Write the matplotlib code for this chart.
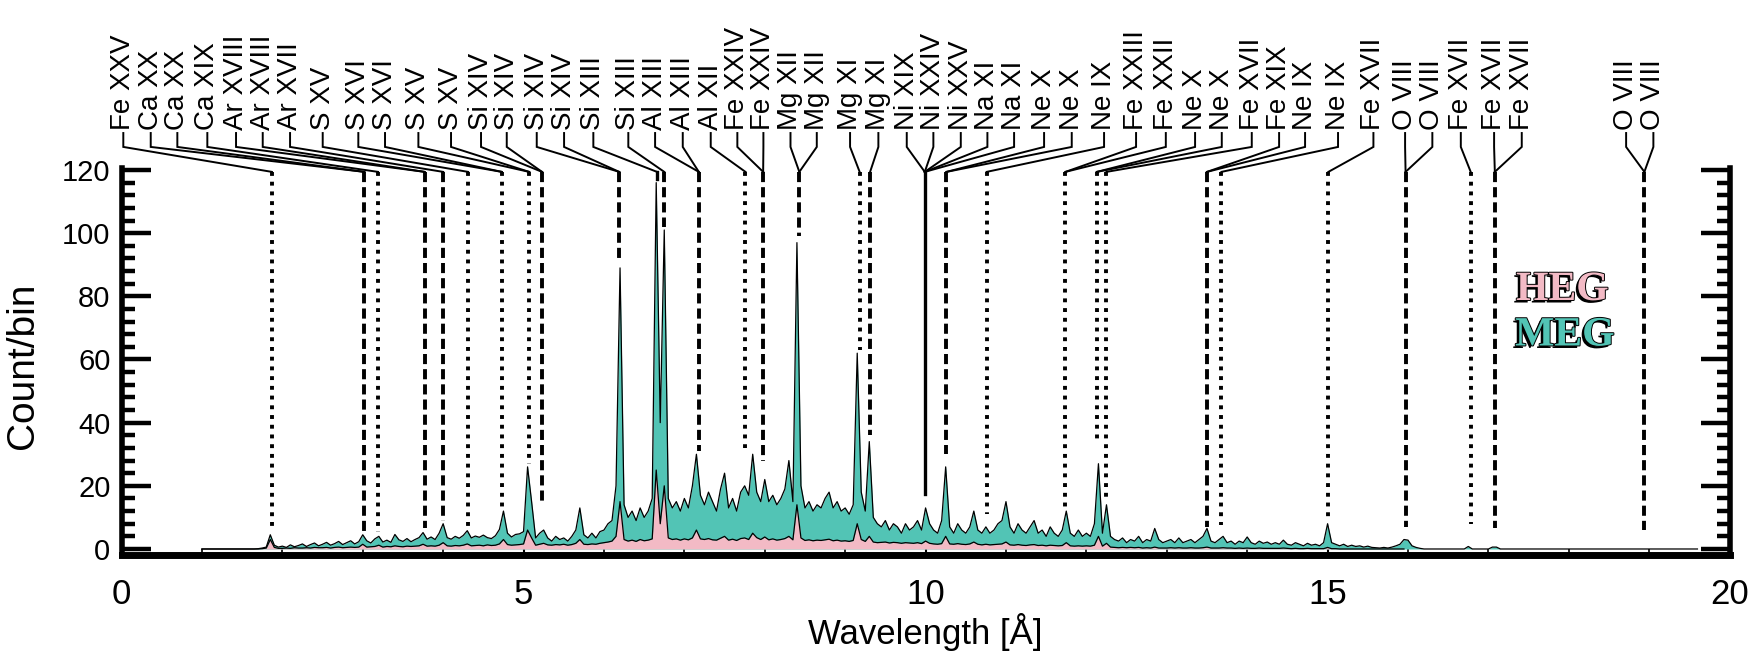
import numpy as np
import matplotlib
matplotlib.use('Agg')
import matplotlib.pyplot as plt
import matplotlib.patheffects as pe
from matplotlib.ticker import MultipleLocator

plt.rcParams['font.family'] = ['Liberation Sans', 'DejaVu Sans']

# ---------------- data ----------------
wave_start = 1.0
wave_step = 0.05

meg_counts = [
    0, 0, 0, 0, 0, 0, 0, 0, 0, 0, 0, 0, 0, 0, 0.1, 0.3, 0.6, 4.5, 1.2, 0.6,            # 1.00-1.95
    0.9, 0.5, 1.3, 0.7, 1.1, 1.6, 0.8, 1.4, 1.9, 1.0, 1.5, 2.1, 1.2, 1.7, 2.4, 1.4, 2.0, 2.6, 1.6, 2.3,  # 2
    4.5, 2.6, 1.9, 3.2, 4.0, 2.2, 2.8, 2.1, 4.6, 2.9, 2.4, 3.3, 2.3, 3.0, 3.6, 5.2, 3.1, 3.8, 3.0, 5.0,  # 3
    8.0, 3.6, 3.1, 4.0, 3.4, 4.3, 5.8, 3.5, 4.1, 3.7, 4.4, 3.6, 3.3, 4.2, 6.2, 12.0, 5.0, 3.8, 4.6, 4.8,  # 4
    5.5, 26, 15, 3.5, 5, 6, 3.5, 2.5, 4, 3, 3.5, 2.5, 4, 6, 13, 4.5, 3.5, 5, 3.5, 5.5,  # 5
    6, 8, 9, 20, 89, 14, 10, 12, 9, 13, 10, 12, 16, 116, 40, 101, 16, 13, 15, 12,      # 6
    16, 13, 20, 30, 17, 14, 18, 15, 12, 19, 24, 13, 16, 12, 18, 20, 17, 30, 18, 15,    # 7
    22, 15, 17, 14, 16, 19, 28, 15, 97, 20, 13, 15, 12, 14, 13, 16, 18, 13, 15, 12,    # 8
    13, 11, 14, 62, 18, 12, 34, 10, 8, 7, 9, 6, 8, 7, 5, 8, 6, 7, 9, 6,                # 9
    13, 8, 6, 5, 9, 26, 7, 5, 8, 6, 5, 7, 12, 6, 5, 7, 5, 6, 8, 9,                     # 10
    15, 7, 5, 8, 6, 5, 7, 9, 5, 6, 4, 7, 5, 4, 6, 12, 5, 4, 6, 4,                      # 11
    5, 4, 8, 27, 5, 14, 4, 3, 2.5, 3.5, 2, 3, 2.5, 4, 2, 3, 2.5, 6.5, 3, 2,            # 12
    2.5, 3, 2, 3.5, 2, 2.5, 3, 2, 3, 4, 6.5, 2.5, 2, 3, 4, 2, 2.5, 1.5, 2.5, 2,        # 13
    3.8, 2, 1.5, 2.5, 1.8, 2.2, 1.5, 2, 1.5, 2.8, 1.5, 1.2, 2, 1.5, 1, 1.8, 1.2, 1.5, 1, 2,  # 14
    8, 2, 1.5, 1, 1.5, 0.8, 1.2, 0.8, 1, 0.6, 0.9, 0.5, 0.4, 0.3, 0.5, 0.3, 0.6, 1, 1.5, 3,  # 15
    2.8, 1, 0.5, 0.2, 0, 0, 0, 0, 0, 0, 0, 0, 0, 0, 0, 0.8, 0, 0, 0, 0,                # 16
    0, 0.6, 0.6, 0, 0, 0, 0, 0, 0, 0, 0, 0, 0, 0, 0, 0, 0, 0, 0, 0,                    # 17
    0, 0, 0, 0, 0, 0, 0, 0, 0, 0, 0, 0, 0, 0, 0, 0, 0, 0, 0, 0,                        # 18
    0, 0, 0, 0, 0, 0, 0, 0, 0, 0, 0, 0, 0,                                             # 19.00-19.60
]

heg_counts = [
    0, 0, 0, 0, 0, 0, 0, 0, 0, 0, 0, 0, 0, 0, 0, 0.1, 0.3, 3.0, 0.5, 0.2,
    0.2, 0.3, 0.2, 0.4, 0.3, 0.3, 0.4, 0.3, 0.5, 0.4, 0.4, 0.5, 0.3, 0.5, 0.6, 0.4, 0.5, 0.6, 0.5, 0.6,
    1.5, 0.6, 0.7, 0.8, 1.2, 0.6, 0.8, 0.7, 1.0, 0.8, 0.7, 0.9, 0.8, 0.9, 1.0, 1.5, 0.9, 1.0, 0.9, 1.2,
    2.0, 1.0, 0.9, 1.1, 1.0, 1.2, 1.6, 1.0, 1.1, 1.2, 1.0, 1.3, 1.1, 1.2, 1.6, 3.0, 1.4, 1.2, 1.3, 1.4,
    1.6, 6.0, 3.5, 1.2, 1.5, 1.8, 1.3, 1.2, 1.4, 1.3, 1.5, 1.2, 1.4, 1.8, 3.0, 1.5, 1.4, 1.6, 1.5, 1.8,
    2.0, 2.2, 2.5, 4.0, 15.0, 3.0, 2.5, 2.8, 2.4, 3.0, 2.6, 2.8, 3.2, 25.0, 8.0, 20.0, 3.5, 3.0, 3.2, 2.8,
    3.2, 2.9, 3.5, 6.0, 3.2, 3.0, 3.3, 2.9, 2.8, 3.4, 4.0, 2.8, 3.1, 2.7, 3.3, 3.5, 3.0, 5.0, 3.6, 3.0,
    3.8, 2.9, 3.2, 2.8, 3.0, 3.3, 4.0, 2.9, 14.0, 3.5, 2.7, 2.9, 2.6, 2.8, 2.7, 2.9, 3.1, 2.6, 2.8, 2.5,
    2.6, 2.4, 2.7, 8.0, 3.0, 2.4, 4.0, 2.2, 2.0, 2.1, 2.2, 1.9, 2.1, 2.0, 1.8, 2.0, 1.9, 1.8, 2.0, 1.7,
    2.5, 1.8, 1.6, 1.5, 1.7, 4.0, 1.6, 1.5, 1.7, 1.5, 1.4, 1.6, 2.2, 1.5, 1.3, 1.5, 1.3, 1.4, 1.5, 1.6,
    2.2, 1.3, 1.2, 1.4, 1.2, 1.1, 1.3, 1.4, 1.1, 1.2, 1.0, 1.2, 1.1, 1.0, 1.1, 2.0, 1.0, 0.9, 1.0, 0.9,
    1.0, 0.9, 1.2, 4.0, 0.9, 1.8, 0.6, 0.5, 0.4, 0.5, 0.4, 0.5, 0.4, 0.5, 0.3, 0.4, 0.3, 0.6, 0.3, 0.3,
    0.3, 0.4, 0.3, 0.4, 0.3, 0.3, 0.4, 0.3, 0.3, 0.4, 0.6, 0.3, 0.3, 0.3, 0.4, 0.3, 0.3, 0.2, 0.3, 0.2,
    0.3, 0.2, 0.2, 0.3, 0.2, 0.2, 0.2, 0.2, 0.2, 0.3, 0.2, 0.1, 0.2, 0.1, 0.1, 0.2, 0.1, 0.1, 0.1, 0.1,
    0.5, 0.1, 0.1, 0, 0, 0, 0, 0, 0, 0, 0, 0, 0, 0, 0, 0, 0, 0, 0, 0,
]

# identified lines: wavelength, lower end of the marker (counts), IDL-like style
line_waves = [1.87, 3.02, 3.19, 3.77, 4.00, 4.31, 4.73, 5.07, 5.23, 6.19, 6.66,
              6.75, 7.18, 7.76, 7.98, 8.43, 9.18, 9.31, 9.99, 10.26, 10.76,
              11.74, 12.13, 12.25, 13.50, 13.68, 15.01, 15.97, 16.78, 17.08, 18.94]
line_bottoms = [6, 5.5, 5.5, 6.5, 9, 7, 13, 27, 14, 92, 117,
                102, 31, 32, 28, 99, 63, 36, 17.5, 30, 11,
                13, 34, 15, 7, 7.5, 9, 7, 8, 6.5, 6]
line_styles = ['dot', 'dash', 'dot', 'dash', 'dash', 'dot', 'dot', 'dot', 'dash', 'dash', 'solid',
               'dash', 'dash', 'dot', 'dash', 'dash', 'dot', 'dash', 'solid', 'dash', 'dot',
               'dot', 'dot', 'dot', 'dash', 'dot', 'dot', 'dash', 'dot', 'dash', 'dash']

label_names = ["Fe XXV", "Ca XX", "Ca XX", "Ca XIX", "Ar XVIII", "Ar XVIII", "Ar XVII",
               "S XV", "S XVI", "S XVI", "S XV", "S XV",
               "Si XIV", "Si XIV", "Si XIV", "Si XIV", "Si XIII", "Si XIII",
               "Al XIII", "Al XIII", "Al XII", "Fe XXIV", "Fe XXIV",
               "Mg XII", "Mg XII", "Mg XI", "Mg XI",
               "Ni XIX", "Ni XXIV", "Ni XXV", "Na XI", "Na XI",
               "Ne X", "Ne X", "Ne IX", "Fe XXIII", "Fe XXII", "Ne X", "Ne X",
               "Fe XVII", "Fe XIX", "Ne IX", "Ne IX", "Fe XVII",
               "O VIII", "O VIII", "Fe XVII", "Fe XVII", "Fe XVII", "O VIII", "O VIII"]
label_line = [0, 1, 1, 2, 3, 3, 4, 5, 6, 6, 7, 7, 8, 8, 9, 9, 10, 11, 12, 12, 13, 14, 14,
              15, 15, 16, 17, 18, 18, 18, 18, 18, 19, 19, 20, 21, 21, 22, 22, 23, 24, 24,
              25, 26, 27, 27, 28, 29, 29, 30, 30]
# label anchor positions along the wavelength axis (layout)
label_pos = [0.022, 0.363, 0.694, 1.067, 1.424, 1.756, 2.096, 2.502, 2.945, 3.277, 3.692,
             4.098, 4.471, 4.791, 5.164, 5.504, 5.868, 6.303, 6.636, 6.980, 7.328, 7.659,
             7.983, 8.32, 8.647, 9.061, 9.413, 9.766, 10.097, 10.438, 10.769, 11.101,
             11.474, 11.818, 12.220, 12.618, 12.988, 13.352, 13.684, 14.057, 14.397,
             14.72, 15.13, 15.570, 15.964, 16.303, 16.657, 17.071, 17.415, 18.713, 19.052]

legend_names = ["HEG", "MEG"]

# ---------------- style ----------------
teal = '#52C4B5'
pink = '#F3BAC5'
style_map = {'dot': dict(linestyle=(0, (1.0, 1.5)), lw=2.8),
             'dash': dict(linestyle=(0, (2.6, 1.3)), lw=2.8),
             'solid': dict(linestyle='-', lw=2.4)}

fig = plt.figure(figsize=(17.64, 6.61), dpi=100)
ax = fig.add_axes([0.0689, 0.1599, 0.9116, 0.5858])

meg = np.array(meg_counts, dtype=float)
heg = np.array(heg_counts, dtype=float)
wave_meg = wave_start + wave_step * np.arange(len(meg))
wave_heg = wave_start + wave_step * np.arange(len(heg))

ax.fill_between(wave_meg, 0, meg, color=teal, lw=0, zorder=2)
ax.plot(wave_meg, meg, color='k', lw=0.9, zorder=3)
ax.fill_between(wave_heg, 0, heg, color=pink, lw=0, zorder=4)
ax.plot(wave_heg, heg, color='k', lw=0.9, zorder=5)

# line markers
y_line_top = 119.4
y_tick_bot = 127.3
y_tick_top = 131.7
y_text = 132.7
for w, b, s in zip(line_waves, line_bottoms, line_styles):
    ax.plot([w, w], [y_line_top, b], color='k', zorder=6, clip_on=False, **style_map[s])

for name, li, lx in zip(label_names, label_line, label_pos):
    w = line_waves[li]
    ax.plot([lx, lx, w], [y_tick_top, y_tick_bot, y_line_top], color='k', lw=1.4,
            zorder=6, clip_on=False, solid_joinstyle='miter')
    ax.text(lx, y_text, name, rotation=90, ha='center', va='bottom', fontsize=20,
            clip_on=False)

# legend texts
for txt, col, (lx, ly) in zip(legend_names, [pink, teal], [(17.92, 82.0), (17.95, 67.6)]):
    t = ax.text(lx, ly, txt, color=col, fontsize=30, fontweight='bold',
                family=['Liberation Serif', 'DejaVu Serif'], ha='center', va='center', zorder=7)
    t.set_path_effects([pe.SimplePatchShadow(offset=(-1.8, -1.8), shadow_rgbFace='black', alpha=1.0),
                        pe.Stroke(linewidth=1.4, foreground='black'), pe.Normal()])

# axes
ax.set_xlim(0, 20)
ax.set_ylim(-2, 120.6)
ax.xaxis.set_major_locator(MultipleLocator(5))
ax.xaxis.set_minor_locator(MultipleLocator(1))
ax.yaxis.set_major_locator(MultipleLocator(20))
ax.yaxis.set_minor_locator(MultipleLocator(4))

ax.tick_params(axis='y', which='major', direction='in', length=21, width=3.2,
               left=True, right=True, labelsize=21, pad=8)
ax.tick_params(axis='y', which='minor', direction='in', length=9.5, width=3.2,
               left=True, right=True)
ax.tick_params(axis='x', which='major', direction='in', length=6, width=1.5,
               top=False, labelsize=25, pad=16)
ax.tick_params(axis='x', which='minor', direction='in', length=4, width=1.2, top=False)

ax.spines['top'].set_visible(False)
ax.spines['left'].set_linewidth(4)
ax.spines['right'].set_linewidth(4)
ax.spines['bottom'].set_linewidth(5)

ax.set_xlabel('Wavelength [Å]', fontsize=25)
ax.xaxis.set_label_coords(0.5, -0.148)
ax.set_ylabel('Count/bin', fontsize=28)
ax.yaxis.set_label_coords(-0.05, 0.49)

fig.savefig('out.png', dpi=100)
